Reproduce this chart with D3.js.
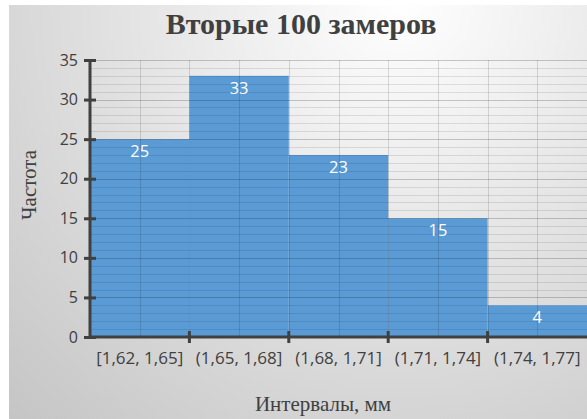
<!DOCTYPE html>
<html>
<head>
<meta charset="utf-8">
<script src="https://cdn.jsdelivr.net/npm/d3@7"></script>
<style>
  html, body { margin: 0; padding: 0; background: #ffffff; }
  svg { display: block; }
</style>
</head>
<body>
<script>
// Histogram data: interval labels and counts
const categories = ["[1,62, 1,65]", "(1,65, 1,68]", "(1,68, 1,71]", "(1,71, 1,74]", "(1,74, 1,77]"];
const counts = [25, 33, 23, 15, 4];
const yTicks = [0, 5, 10, 15, 20, 25, 30, 35];

const W = 587, H = 419;
const plot = { left: 90, right: 587, top: 60, bottom: 337 };
const ink = "#404040";

const svg = d3.select("body").append("svg")
  .attr("width", W).attr("height", H);

// Soft radial background, lightest near the title
const defs = svg.append("defs");
const grad = defs.append("radialGradient")
  .attr("id", "bg").attr("gradientUnits", "userSpaceOnUse")
  .attr("cx", 400).attr("cy", 0).attr("r", 600);
grad.append("stop").attr("offset", 0).attr("stop-color", "#ffffff");
grad.append("stop").attr("offset", 1).attr("stop-color", "#c2c2c2");

svg.append("rect").attr("x", 9).attr("y", 5)
  .attr("width", W - 9).attr("height", H - 5)
  .attr("fill", "url(#bg)");

const x = d3.scaleBand().domain(categories).range([plot.left, plot.right]).padding(0);
const y = d3.scaleLinear().domain([0, 35]).range([plot.bottom, plot.top]);

// Bars
svg.append("g").selectAll("rect")
  .data(counts)
  .join("rect")
  .attr("x", (d, i) => x(categories[i]))
  .attr("y", d => y(d))
  .attr("width", x.bandwidth())
  .attr("height", d => y(0) - y(d))
  .attr("fill", "#5b9bd5");

// Gridlines drawn over the bars
const grid = svg.append("g");
const minorVals = d3.range(1, 36);
grid.selectAll("line.h")
  .data(minorVals)
  .join("line")
  .attr("class", "h")
  .attr("x1", plot.left).attr("x2", plot.right)
  .attr("y1", d => Math.round(y(d)) + 0.5).attr("y2", d => Math.round(y(d)) + 0.5)
  .attr("stroke", "#000")
  .attr("stroke-opacity", d => d % 5 === 0 ? 0.2 : 0.1)
  .attr("stroke-width", 1);

const vVals = [];
categories.forEach(c => {
  vVals.push(x(c));
  vVals.push(x(c) + x.bandwidth() / 2);
});
grid.selectAll("line.v")
  .data(vVals.filter(v => v > plot.left))
  .join("line")
  .attr("class", "v")
  .attr("x1", d => Math.round(d) + 0.5).attr("x2", d => Math.round(d) + 0.5)
  .attr("y1", plot.top).attr("y2", plot.bottom)
  .attr("stroke", "#000")
  .attr("stroke-opacity", 0.13)
  .attr("stroke-width", 1);

// Value labels inside the bars
svg.append("g").selectAll("text")
  .data(counts)
  .join("text")
  .attr("x", (d, i) => x(categories[i]) + x.bandwidth() / 2)
  .attr("y", d => y(d) + 12)
  .attr("dy", "0.35em")
  .attr("text-anchor", "middle")
  .attr("font-family", "'Open Sans', sans-serif")
  .attr("font-size", 16.5)
  .attr("fill", "#ffffff")
  .text(d => d);

// Y axis with ticks crossing the axis line
const yAxis = svg.append("g")
  .attr("transform", `translate(${plot.left},0)`)
  .call(d3.axisLeft(y).tickValues(yTicks).tickSize(6).tickPadding(6));
yAxis.select(".domain").attr("stroke", ink).attr("stroke-width", 3)
  .attr("d", `M0,${plot.bottom}V${plot.top}`);
yAxis.selectAll(".tick line").attr("x1", -6).attr("x2", 6)
  .attr("stroke", ink).attr("stroke-width", 3);
yAxis.selectAll(".tick text")
  .attr("font-family", "'Open Sans', sans-serif")
  .attr("font-size", 16)
  .attr("fill", ink);

// X axis: labels centred on bands, ticks at band boundaries
const xAxis = svg.append("g")
  .attr("transform", `translate(0,${plot.bottom})`)
  .call(d3.axisBottom(x).tickSize(0).tickPadding(0));
xAxis.select(".domain").attr("stroke", ink).attr("stroke-width", 3)
  .attr("d", `M${plot.left},0H${plot.right}`);
xAxis.selectAll(".tick text")
  .attr("y", 27).attr("dy", 0)
  .attr("font-family", "'Open Sans', sans-serif")
  .attr("font-size", 17)
  .attr("fill", ink);
xAxis.selectAll("line.bound")
  .data(categories.slice(1))
  .join("line")
  .attr("class", "bound")
  .attr("x1", d => x(d)).attr("x2", d => x(d))
  .attr("y1", -6).attr("y2", 6)
  .attr("stroke", ink).attr("stroke-width", 3);

// Titles
svg.append("text")
  .attr("x", 301).attr("y", 34)
  .attr("text-anchor", "middle")
  .attr("font-family", "'Liberation Serif', serif")
  .attr("font-weight", "bold")
  .attr("font-size", 30)
  .attr("fill", ink)
  .text("Вторые 100 замеров");

svg.append("text")
  .attr("transform", "translate(36,185) rotate(-90)")
  .attr("text-anchor", "middle")
  .attr("font-family", "'Liberation Serif', serif")
  .attr("font-size", 21)
  .attr("fill", ink)
  .text("Частота");

svg.append("text")
  .attr("x", 323).attr("y", 411)
  .attr("text-anchor", "middle")
  .attr("font-family", "'Liberation Serif', serif")
  .attr("font-size", 21)
  .attr("fill", ink)
  .text("Интервалы, мм");
</script>
</body>
</html>
